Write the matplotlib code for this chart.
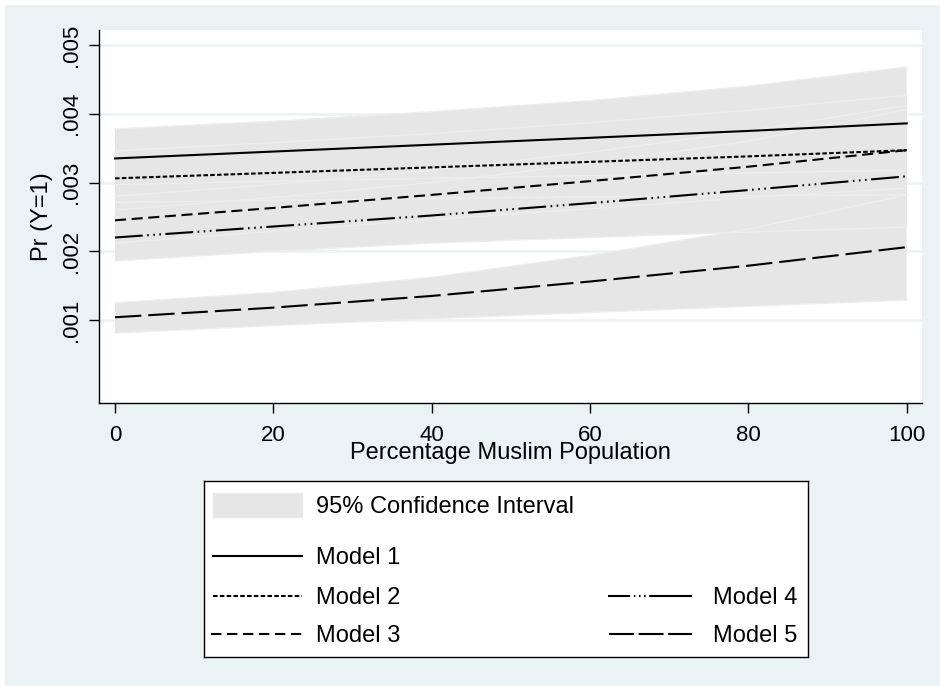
import matplotlib
matplotlib.use("Agg")
import matplotlib.pyplot as plt
from matplotlib.patches import Rectangle
from matplotlib.lines import Line2D
from matplotlib.ticker import FuncFormatter

plt.rcParams['font.family'] = ['Liberation Sans', 'DejaVu Sans']
plt.rcParams['lines.scale_dashes'] = False

# ---------------- data ----------------
pct_muslim = [0, 20, 40, 60, 80, 100]

model1 = [0.00335, 0.00345, 0.00355, 0.00365, 0.00375, 0.00386]
model2 = [0.00306, 0.00314, 0.00322, 0.00330, 0.00338, 0.00347]
model3 = [0.00245, 0.00263, 0.00282, 0.00302, 0.00323, 0.00347]
model4 = [0.00220, 0.00236, 0.00252, 0.00270, 0.00289, 0.00309]
model5 = [0.00104, 0.00118, 0.00135, 0.00156, 0.00179, 0.00206]

model1_lo = [0.00297, 0.00302, 0.00306, 0.00310, 0.00314, 0.00318]
model1_hi = [0.00378, 0.00389, 0.00403, 0.00419, 0.00440, 0.00468]
model2_lo = [0.00271, 0.00274, 0.00277, 0.00279, 0.00281, 0.00282]
model2_hi = [0.00346, 0.00358, 0.00371, 0.00387, 0.00405, 0.00427]
model3_lo = [0.00212, 0.00229, 0.00246, 0.00262, 0.00278, 0.00292]
model3_hi = [0.00280, 0.00297, 0.00318, 0.00344, 0.00375, 0.00412]
model4_lo = [0.00186, 0.00200, 0.00212, 0.00220, 0.00228, 0.00235]
model4_hi = [0.00260, 0.00278, 0.00300, 0.00327, 0.00360, 0.00406]
model5_lo = [0.00081, 0.00092, 0.00102, 0.00111, 0.00120, 0.00129]
model5_hi = [0.00125, 0.00140, 0.00162, 0.00194, 0.00232, 0.00282]

x_ticks = [0, 20, 40, 60, 80, 100]
y_ticks = [0.001, 0.002, 0.003, 0.004, 0.005]

model_names = ["Model 1", "Model 2", "Model 3", "Model 4", "Model 5"]
ci_label = "95% Confidence Interval"
x_title = "Percentage Muslim Population"
y_title = "Pr (Y=1)"

# ---------------- styles ----------------
BG = '#eaf2f3'
BAND = '#e6e6e6'
BAND_EDGE = '#ededed'
styles = [
    '-',
    (0, (3.3, 1.6)),
    (0, (8.0, 4.0)),
    (0, (20.0, 3.2, 1.2, 3.2, 1.2, 3.2, 1.2, 3.2)),
    (0, (19.0, 5.0)),
]
legend_styles = [
    '-',
    (0, (3.3, 1.6)),
    (0, (7.5, 4.0)),
    (0, (16.0, 2.6, 1.1, 2.6, 1.1, 2.6, 1.1, 2.6, 40.0, 2.0)),
    (0, (18.0, 3.3)),
]
LW = 1.5
FS = 17

fig = plt.figure(figsize=(9.4, 6.86), dpi=100, facecolor='white')
fig.patches.append(Rectangle((5 / 940, 0), 1, (686 - 5) / 686, transform=fig.transFigure,
                             facecolor=BG, edgecolor='none', zorder=-10))

ax = fig.add_axes([99 / 940, (686 - 403) / 686, 823 / 940, 373 / 686])
ax.set_facecolor('white')

bands = [(model1_lo, model1_hi), (model2_lo, model2_hi), (model3_lo, model3_hi),
         (model4_lo, model4_hi), (model5_lo, model5_hi)]
for lo, hi in bands:
    ax.fill_between(pct_muslim, lo, hi, facecolor=BAND, edgecolor='none', zorder=2)
for lo, hi in bands:
    ax.plot(pct_muslim, lo, color=BAND_EDGE, lw=1.0, zorder=3)
    ax.plot(pct_muslim, hi, color=BAND_EDGE, lw=1.0, zorder=3)

series = [model1, model2, model3, model4, model5]
for s, ls in zip(series, styles):
    ax.plot(pct_muslim, s, color='black', lw=LW, linestyle=ls, zorder=4)

ax.set_xlim(-2.02, 101.93)
ax.set_ylim(-0.000207, 0.005218)
ax.set_xticks(x_ticks)
ax.set_yticks(y_ticks)
ax.yaxis.set_major_formatter(FuncFormatter(lambda v, p: ('%.3f' % v).lstrip('0')))
ax.grid(axis='y', color=BG, lw=1.8, zorder=1)
ax.set_axisbelow(True)
for sp in ['top', 'right']:
    ax.spines[sp].set_visible(False)
for sp in ['left', 'bottom']:
    ax.spines[sp].set_linewidth(1.0)
ax.tick_params(axis='both', direction='out', length=7, width=1.0, labelsize=16)
ax.tick_params(axis='x', pad=9)
ax.tick_params(axis='y', pad=5)
for lab in ax.get_yticklabels():
    lab.set_rotation(90)
    lab.set_va('center')
    lab.set_ha('right')
ax.set_xlabel(x_title, fontsize=FS, labelpad=-3)
ax.set_ylabel(y_title, fontsize=FS, labelpad=6)

# ---------------- legend ----------------
lg_left, lg_top, lg_right, lg_bottom = 204, 481, 808, 657
lax = fig.add_axes([lg_left / 940, (686 - lg_bottom) / 686,
                    (lg_right - lg_left) / 940, (lg_bottom - lg_top) / 686])
lax.set_xlim(lg_left, lg_right)
lax.set_ylim(lg_bottom, lg_top)
lax.set_xticks([])
lax.set_yticks([])
lax.set_facecolor('white')
for sp in lax.spines.values():
    sp.set_linewidth(1.0)
    sp.set_color('black')

lax.add_patch(Rectangle((213, 493), 89, 24, facecolor=BAND, edgecolor='#e9e9e9', lw=1))
lax.text(316, 507, ci_label, fontsize=FS, va='center', ha='left')

entries = [  # (handle x0, x1, y, text x, name index)
    (213, 302, 556, 316, 0),
    (213, 302, 596, 316, 1),
    (211, 302, 634, 316, 2),
    (608, 692, 596, 713, 3),
    (609, 692, 634, 713, 4),
]
for x0, x1, yy, tx, i in entries:
    lax.add_line(Line2D([x0, x1], [yy, yy], color='black', lw=LW, linestyle=legend_styles[i]))
    lax.text(tx, yy + 2, model_names[i], fontsize=FS, va='center', ha='left')

fig.savefig('out.png', dpi=100, facecolor=fig.get_facecolor())
